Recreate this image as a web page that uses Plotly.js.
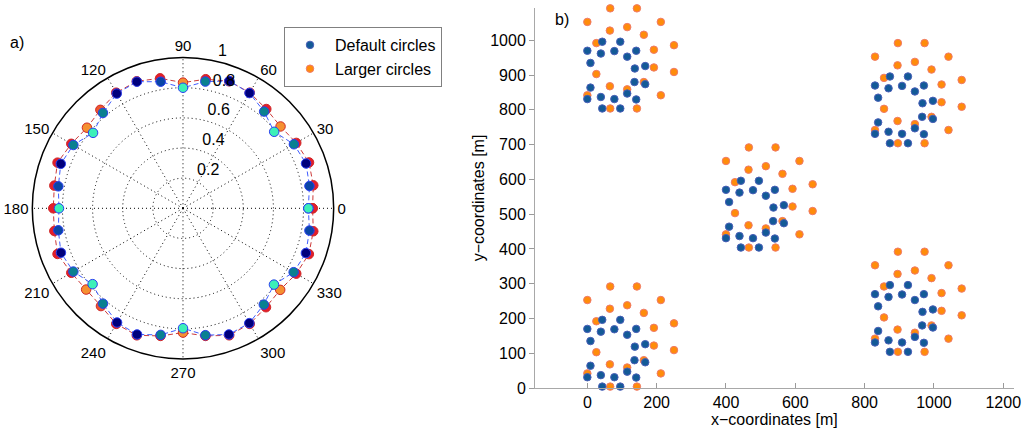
<!DOCTYPE html>
<html><head><meta charset="utf-8">
<script src="https://cdn.plot.ly/plotly-3.0.1.min.js"></script>
<style>html,body{margin:0;padding:0;background:#fff}#chart{width:1024px;height:429px}</style>
</head><body><div id="chart"></div><script>
// ---------- a) polar data ----------
var thetaDeg = [0,10,20,30,40,50,60,70,80,90,100,110,120,130,140,150,160,170,180,190,200,210,220,230,240,250,260,270,280,290,300,310,320,330,340,350];
var rDefault = [0.832,0.852,0.869,0.850,0.790,0.838,0.883,0.899,0.854,0.800,0.853,0.894,0.879,0.826,0.779,0.840,0.863,0.840,0.823,0.840,0.862,0.840,0.783,0.826,0.875,0.891,0.853,0.796,0.855,0.891,0.880,0.834,0.788,0.848,0.868,0.852];
var cDefault = [0,2,3,1,0,1,3,3,1,0,2,3,3,1,0,1,3,2,0,2,3,1,0,1,3,3,1,0,1,3,3,1,0,1,3,2];
var rLarger  = [0.860,0.878,0.890,0.868,0.845,0.860,0.886,0.897,0.870,0.834,0.876,0.897,0.886,0.853,0.832,0.856,0.886,0.867,0.861,0.867,0.886,0.856,0.839,0.847,0.886,0.897,0.860,0.825,0.860,0.897,0.886,0.857,0.842,0.868,0.889,0.878];
var cLarger  = [1,1,1,1,0,1,1,1,1,0,1,1,1,0.5,0,1,1,1,1,1,1,1,0,0.5,1,1,1,0,1,1,1,1,0,1,1,1];
var angTicks = [0,30,60,90,120,150,180,210,240,270,300,330];
var radTicks = [0.2,0.4,0.6,0.8,1];
var radTickText = ['0.2','0.4','0.6','0.8','1'];
var radLabelAngle = 80;

// ---------- b) scatter data ----------
var baseDefaultX = [43,95,0,39,78,115,141,9,137,167,9,136,167,115,0,39,78,141,43,95];
var baseDefaultY = [196,196,170,162,169,153,170,135,119,126,64,80,74,47,31,37,31,30,4,4];
var baseLargerX  = [66,143,0,212,65,115,163,26,192,250,26,192,250,163,65,115,0,212,66,143];
var baseLargerY  = [292,292,253,253,228,238,216,192,173,186,103,122,109,80,68,59,42,42,4,4];
var clusterDX = [0,0,400,830,830];
var clusterDY = [0,800,400,700,100];
var xTicks = [0,200,400,600,800,1000,1200];
var yTicks = [0,100,200,300,400,500,600,700,800,900,1000];

function closeLoop(a){ return a.concat([a[0]]); }
function place(bx, by){
  var xs=[], ys=[];
  for (var k=0;k<clusterDX.length;k++){
    for (var i=0;i<bx.length;i++){ xs.push(bx[i]+clusterDX[k]); ys.push(by[i]+clusterDY[k]); }
  }
  return {x:xs, y:ys};
}
var pD = place(baseDefaultX, baseDefaultY);
var pL = place(baseLargerX, baseLargerY);

var traces = [
  {type:'scatterpolar', subplot:'polar', r:closeLoop(rLarger), theta:closeLoop(thetaDeg), mode:'lines+markers', showlegend:false,
   line:{color:'#cc3a3a', width:1, dash:'5px,3px'},
   marker:{size:9.5, color:closeLoop(cLarger), cmin:0, cmax:1, colorscale:[[0,'#f59030'],[1,'#e41e2a']], line:{color:'#d02828', width:1}}},
  {type:'scatterpolar', subplot:'polar', r:closeLoop(rDefault), theta:closeLoop(thetaDeg), mode:'lines+markers', showlegend:false,
   line:{color:'#3f5cff', width:1, dash:'5px,3px'},
   marker:{size:9.5, color:closeLoop(cDefault), cmin:0, cmax:3, colorscale:[[0,'#3cf0b8'],[0.333,'#0a8090'],[0.667,'#0a46a6'],[1,'#00007c']], line:{color:'#2a3ff0', width:1}}},
  {type:'scatterpolar', subplot:'polar', r:radTicks, theta:radTicks.map(function(){return radLabelAngle;}), mode:'text',
   text:radTickText.map(function(t){return '\u00a0\u00a0'+t;}), textposition:'top right', showlegend:false, cliponaxis:false,
   textfont:{size:16, color:'#000', family:'Liberation Sans, Arial, sans-serif'}},
  {type:'scatter', x:pL.x, y:pL.y, mode:'markers', name:'Larger circles', legendrank:2, cliponaxis:false,
   marker:{size:7.5, color:'#ff8c0a', line:{color:'#f07a6a', width:1}}},
  {type:'scatter', x:pD.x, y:pD.y, mode:'markers', name:'Default circles', legendrank:1, cliponaxis:false,
   marker:{size:7.5, color:'#135a97', line:{color:'#4a5fb8', width:1}}}
];

var font = {family:'Liberation Sans, Arial, sans-serif', size:16, color:'#000'};
var layout = {
  width:1024, height:429, margin:{l:0,r:0,t:0,b:0}, paper_bgcolor:'#fff', plot_bgcolor:'#fff', font:font,
  showlegend:true,
  legend:{x:284/1024, y:1-27/429, xanchor:'left', yanchor:'top', bgcolor:'#fff', bordercolor:'#808080', borderwidth:1, font:{size:16}, itemwidth:40},
  polar:{
    domain:{x:[0.0315,0.3259], y:[0.1632,0.8657]}, bgcolor:'rgba(0,0,0,0)',
    radialaxis:{range:[0,1], tickvals:radTicks, showticklabels:false, angle:80, showline:false, ticks:'',
      gridcolor:'#000', griddash:'1px,3px', gridwidth:1},
    angularaxis:{tickvals:angTicks, direction:'counterclockwise', rotation:0, showline:true, linecolor:'#000', linewidth:1.5,
      gridcolor:'#000', griddash:'1px,3px', gridwidth:1, ticks:'', tickfont:{size:15, color:'#000'}}
  },
  xaxis:{domain:[535/1024, 1014/1024], range:[-151,1231], tickvals:xTicks, ticks:'inside', ticklen:5, tickcolor:'#9a9a9a',
    showline:true, linecolor:'#a8a8a8', zeroline:false, showgrid:false, tickfont:{size:16}, anchor:'y'},
  yaxis:{domain:[1-388/429, 1-8/429], range:[0,1093], tickvals:yTicks, ticks:'outside', ticklen:5, tickcolor:'#9a9a9a',
    showline:true, linecolor:'#a8a8a8', zeroline:false, showgrid:false, tickfont:{size:16}, anchor:'x',
    title:{text:'y−coordinates [m]', font:{size:16}, standoff:1}},
  annotations:[
    {text:'x−coordinates [m]', xref:'paper', yref:'paper', x:774.5/1024, y:1-419/429, xanchor:'center', yanchor:'middle', showarrow:false, font:{size:16}},
    {text:'a)', xref:'paper', yref:'paper', x:8/1024, y:1-42/429, xanchor:'left', yanchor:'middle', showarrow:false, font:{size:16}},
    {text:'b)', xref:'paper', yref:'paper', x:553/1024, y:1-20/429, xanchor:'left', yanchor:'middle', showarrow:false, font:{size:16}}
  ]
};
Plotly.newPlot('chart', traces, layout, {displayModeBar:false, staticPlot:true});
</script></body></html>
